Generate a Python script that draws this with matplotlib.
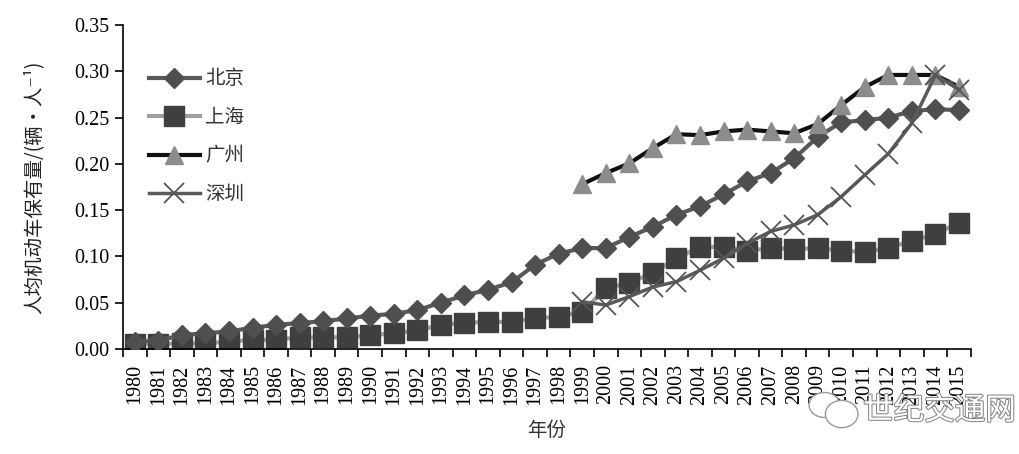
import matplotlib
matplotlib.use("Agg")
import matplotlib.pyplot as plt
import matplotlib.patheffects as pe
from matplotlib.patches import Ellipse
import numpy as np

years = [str(y) for y in range(1980, 2016)]

beijing = [0.008, 0.009, 0.015, 0.017, 0.019, 0.023, 0.026, 0.028, 0.030, 0.033,
           0.036, 0.038, 0.042, 0.050, 0.058, 0.064, 0.072, 0.091, 0.103, 0.109,
           0.109, 0.121, 0.132, 0.145, 0.154, 0.167, 0.181, 0.190, 0.206, 0.229,
           0.245, 0.247, 0.250, 0.257, 0.259, 0.258]
shanghai = [0.0055, 0.0055, 0.006, 0.006, 0.008, 0.0097, 0.010, 0.0126, 0.0126, 0.0126,
            0.0148, 0.017, 0.020, 0.026, 0.0285, 0.029, 0.0295, 0.033, 0.035, 0.040,
            0.0655, 0.0716, 0.082, 0.098, 0.110, 0.1105, 0.106, 0.109, 0.108, 0.109,
            0.106, 0.105, 0.109, 0.117, 0.124, 0.1365]
# 广州 and 深圳 start in 1999
guangzhou = [None] * 19 + [0.178, 0.190, 0.2005, 0.217, 0.232, 0.231, 0.235, 0.237,
                           0.235, 0.233, 0.243, 0.2635, 0.283, 0.296, 0.296, 0.296, 0.283]
shenzhen = [None] * 19 + [0.051, 0.0475, 0.0565, 0.067, 0.0727, 0.085, 0.098, 0.114,
                          0.127, 0.134, 0.145, 0.1645, 0.188, 0.211, 0.244, 0.296, 0.280]

serif = "Liberation Serif"
cjk = ["Noto Sans CJK SC", "DejaVu Sans"]

fig = plt.figure(figsize=(10.19, 4.54), dpi=100)
ax = fig.add_axes([0.1207, 0.2313, 0.832, 0.7137])

x = np.arange(len(years))


def arr(v):
    return np.array([np.nan if a is None else a for a in v], dtype=float)


ax.plot(x, arr(beijing), color="#5a5a5a", lw=3, marker="D", ms=10,
        mfc="#4f4f4f", mec="#4f4f4f", label="北京", zorder=3)
ax.plot(x, arr(shanghai), color="#a0a0a0", lw=3, marker="s", ms=14,
        mfc="#3f3f3f", mec="#3f3f3f", label="上海", zorder=2)
ax.plot(x, arr(guangzhou), color="#111111", lw=3, marker="^", ms=13,
        mfc="#8c8c8c", mec="#8c8c8c", label="广州", zorder=3)
ax.plot(x, arr(shenzhen), color="#5a5a5a", lw=2.5, marker="x", ms=14, mew=1.3,
        mec="#555555", label="深圳", zorder=4)

ax.set_xlim(-0.5, len(years) - 0.5)
ax.set_ylim(0, 0.35)
ax.set_yticks(np.arange(0, 0.36, 0.05))
ax.set_yticklabels(["%.2f" % v for v in np.arange(0, 0.36, 0.05)],
                   fontfamily=serif, fontsize=14.5)
ax.set_xticks(x)
ax.set_xticklabels(years, rotation=90, fontfamily=serif, fontsize=14.5)
ax.set_xticks(np.arange(-0.5, len(years)), minor=True)
ax.tick_params(axis="x", which="major", length=0, pad=11)
ax.tick_params(axis="x", which="minor", length=6, width=1.2, direction="out")
ax.tick_params(axis="y", length=6, width=1.2, direction="out")

for s in ["top", "right"]:
    ax.spines[s].set_visible(False)
for s in ["left", "bottom"]:
    ax.spines[s].set_linewidth(1.2)

ax.set_ylabel("人均机动车保有量/(辆·人⁻¹)", family=cjk, fontsize=14,
              color="#222222", labelpad=22)
ax.set_xlabel("年份", family=cjk, fontsize=14, color="#333333", labelpad=11)

leg = ax.legend(loc="upper left", bbox_to_anchor=(0.01, 0.92), frameon=False,
                prop={"family": cjk, "size": 14}, handlelength=2.6,
                labelspacing=0.9, handletextpad=0.3)
for t in leg.get_texts():
    t.set_color("#333333")

# watermark
fig.text(0.847, 0.095, "世纪交通网", family=cjk, fontsize=22, color="white",
         va="center",
         path_effects=[pe.withStroke(linewidth=1.5, foreground="#888888")])
fig.patches.append(Ellipse((0.809, 0.108), 0.03, 0.055, transform=fig.transFigure,
                           fc="white", ec="#999999", lw=1))
fig.patches.append(Ellipse((0.826, 0.088), 0.032, 0.06, transform=fig.transFigure,
                           fc="white", ec="#999999", lw=1))

fig.savefig("out.png", dpi=100)
